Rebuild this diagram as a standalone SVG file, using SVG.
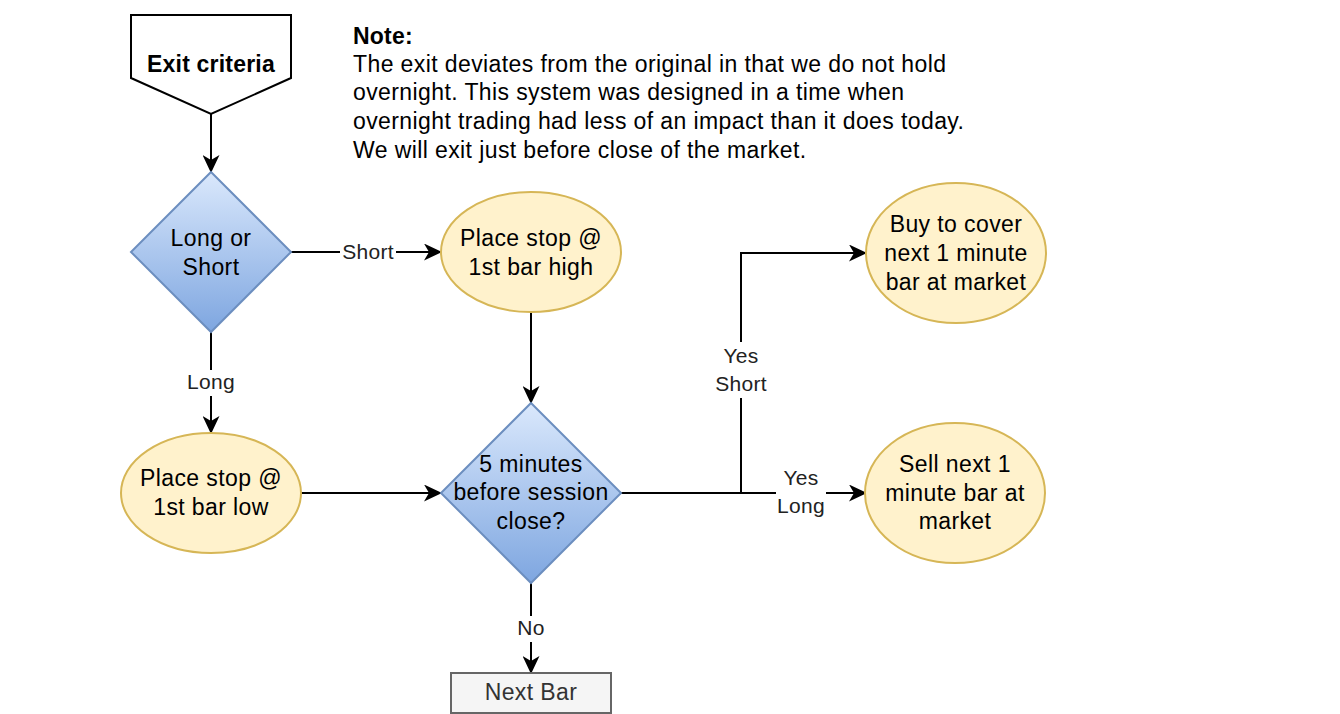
<svg xmlns="http://www.w3.org/2000/svg" width="1340" height="714" viewBox="0 0 1340 714">
<defs>
<linearGradient id="blueGrad" x1="0" y1="0" x2="0" y2="1">
<stop offset="0" stop-color="#dae8fc"/>
<stop offset="1" stop-color="#7ea6e0"/>
</linearGradient>
<marker id="arrow" viewBox="0 0 18 17" refX="17" refY="8.5" markerWidth="18" markerHeight="17" markerUnits="userSpaceOnUse" orient="auto">
<path d="M0,0 L18,8.5 L0,17 L5,8.5 Z" fill="#000"/>
</marker>
</defs>
<style>
text { font-family: "Liberation Sans", Arial, Helvetica, sans-serif; letter-spacing: 0.4px; }
.t { font-size: 23px; fill: #000; text-anchor: middle; }
.b { font-weight: bold; letter-spacing: 0.2px; }
.lbl { font-size: 21px; fill: #222; text-anchor: middle; letter-spacing: 0.3px; }
.note { font-size: 23px; fill: #000; }
.dia { fill: url(#blueGrad); stroke: #6c8ebf; stroke-width: 2; }
.ell { fill: #fff2cc; stroke: #d6b656; stroke-width: 2; }
.edge { fill: none; stroke: #000; stroke-width: 2; }
.bg { fill: #fff; }
</style>
<rect width="1340" height="714" fill="#fff"/>

<g id="connectors">
<path class="edge" d="M211,114 L211,172" marker-end="url(#arrow)"/>
<path class="edge" d="M291,252 L441,252" marker-end="url(#arrow)"/>
<path class="edge" d="M211,332 L211,433" marker-end="url(#arrow)"/>
<path class="edge" d="M531,312 L531,403" marker-end="url(#arrow)"/>
<path class="edge" d="M301,493 L441,493" marker-end="url(#arrow)"/>
<path class="edge" d="M621,493 L741,493 L741,253 L866,253" marker-end="url(#arrow)"/>
<path class="edge" d="M621,493 L866,493" marker-end="url(#arrow)"/>
<path class="edge" d="M531,583 L531,673" marker-end="url(#arrow)"/>
<rect class="bg" x="340" y="240" width="56" height="24"/>
<text class="lbl" x="368" y="259">Short</text>
<rect class="bg" x="184" y="370" width="54" height="26"/>
<text class="lbl" x="211" y="389">Long</text>
<rect class="bg" x="513" y="616" width="36" height="26"/>
<text class="lbl" x="531" y="635">No</text>
<rect class="bg" x="712" y="342" width="58" height="56"/>
<text class="lbl" x="741" y="363">Yes</text>
<text class="lbl" x="741" y="391">Short</text>
<rect class="bg" x="776" y="464" width="50" height="56"/>
<text class="lbl" x="801" y="485">Yes</text>
<text class="lbl" x="801" y="513">Long</text>
</g>

<g id="exit-criteria">
<path d="M131,15 L291,15 L291,78 L211,114 L131,78 Z" fill="#fff" stroke="#000" stroke-width="2"/>
<text class="t b" x="211" y="72">Exit criteria</text>
</g>

<g id="note">
<text class="note b" x="353" y="44">Note:</text>
<text class="note" x="353" y="72">The exit deviates from the original in that we do not hold</text>
<text class="note" x="353" y="100">overnight. This system was designed in a time when</text>
<text class="note" x="353" y="129">overnight trading had less of an impact than it does today.</text>
<text class="note" x="353" y="158">We will exit just before close of the market.</text>
</g>

<g id="long-or-short">
<path class="dia" d="M211,172 L291,252 L211,332 L131,252 Z"/>
<text class="t" x="211" y="246">Long or</text>
<text class="t" x="211" y="275">Short</text>
</g>

<g id="stop-high">
<ellipse class="ell" cx="531" cy="252" rx="90" ry="60"/>
<text class="t" x="531" y="246">Place stop @</text>
<text class="t" x="531" y="275">1st bar high</text>
</g>

<g id="stop-low">
<ellipse class="ell" cx="211" cy="493" rx="90" ry="60"/>
<text class="t" x="211" y="486">Place stop @</text>
<text class="t" x="211" y="515">1st bar low</text>
</g>

<g id="session-close">
<path class="dia" d="M531,403 L621,493 L531,583 L441,493 Z"/>
<text class="t" x="531" y="472">5 minutes</text>
<text class="t" x="531" y="500">before session</text>
<text class="t" x="531" y="529">close?</text>
</g>

<g id="buy-to-cover">
<ellipse class="ell" cx="956" cy="253" rx="90" ry="70"/>
<text class="t" x="956" y="232">Buy to cover</text>
<text class="t" x="956" y="261">next 1 minute</text>
<text class="t" x="956" y="290">bar at market</text>
</g>

<g id="sell-next">
<ellipse class="ell" cx="955" cy="493" rx="90" ry="70"/>
<text class="t" x="955" y="472">Sell next 1</text>
<text class="t" x="955" y="501">minute bar at</text>
<text class="t" x="955" y="529">market</text>
</g>

<g id="next-bar">
<rect x="451" y="673" width="160" height="40" fill="#f5f5f5" stroke="#666" stroke-width="2"/>
<text class="t" x="531" y="700" style="fill:#333">Next Bar</text>
</g>
</svg>
